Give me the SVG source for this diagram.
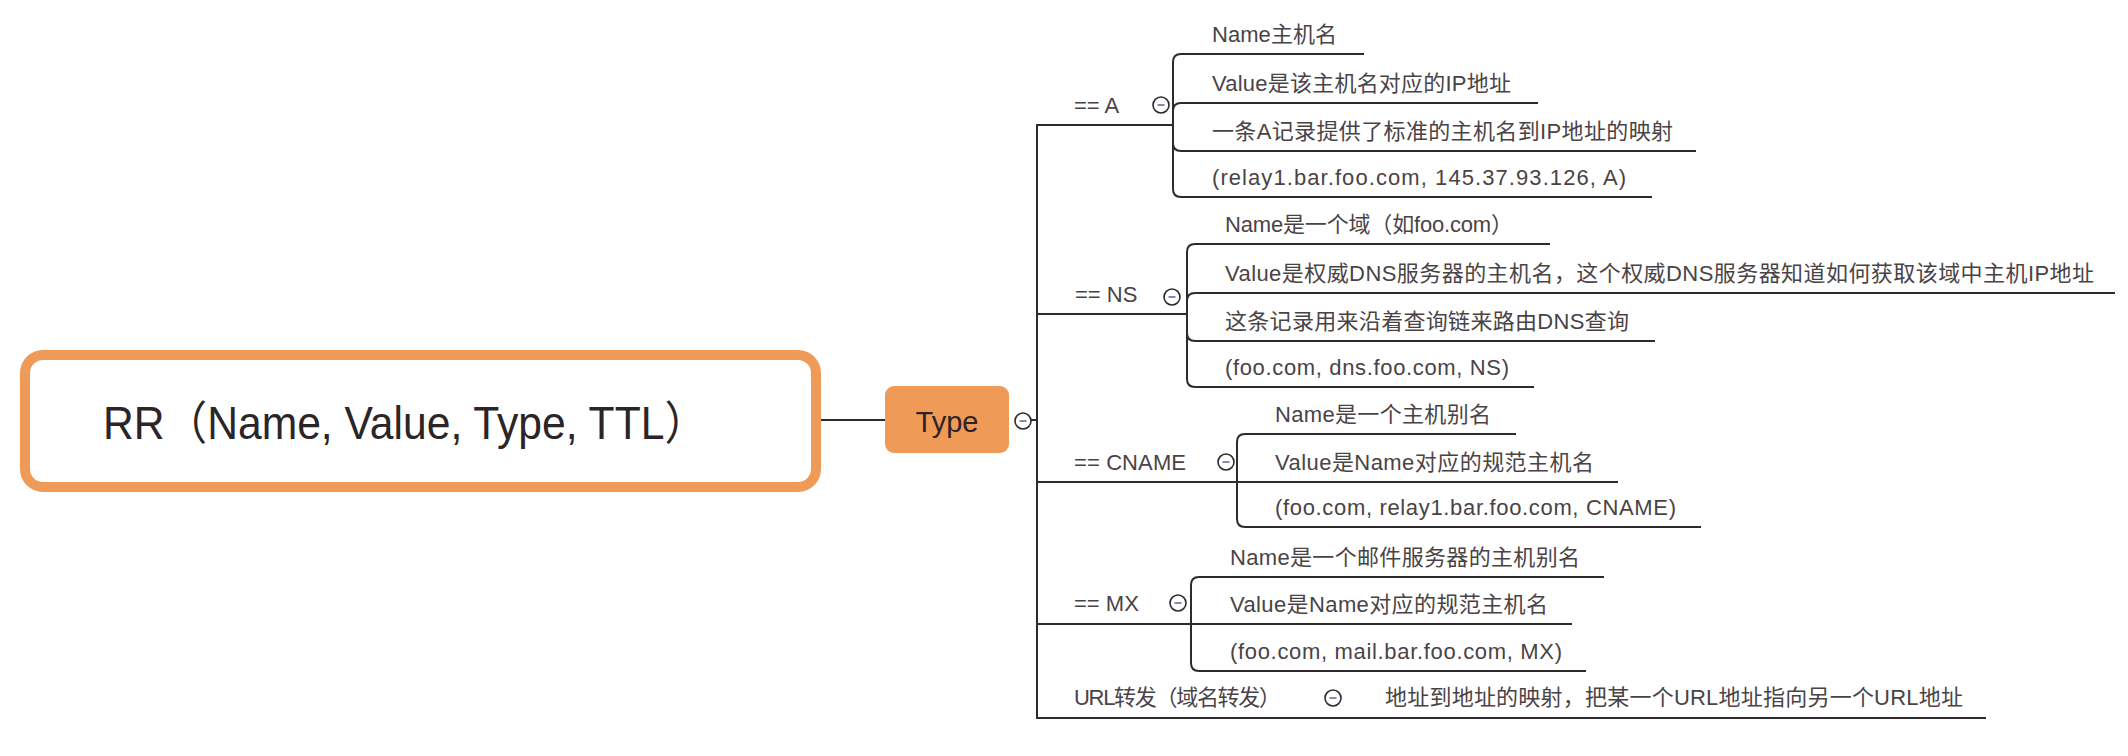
<svg xmlns="http://www.w3.org/2000/svg" width="2128" height="756" viewBox="0 0 2128 756">
<style>
.t{font-family:"Liberation Sans","Noto Sans CJK SC",sans-serif;font-size:22px;fill:#4a4346;}
.ln{fill:none;stroke:#2f2a2d;stroke-width:2;}
.cc{fill:#fff;stroke:#2f2a2d;stroke-width:1.6;}
.cd{stroke:#7f8db3;stroke-width:2;}
</style>
<defs>
<g id="col"><circle class="cc" cx="0" cy="0" r="8"/><line class="cd" x1="-3.5" y1="0" x2="3.5" y2="0"/></g>
</defs>
<rect width="2128" height="756" fill="#fff"/>
<g id="connectors">
<line class="ln" x1="821" y1="420" x2="886" y2="420"/>
<line class="ln" x1="1031" y1="420" x2="1037" y2="420"/>
<path class="ln" d="M1173 125 H1037 V718 H1986"/>
<path class="ln" d="M1037 314 H1187"/>
<path class="ln" d="M1037 482 H1237"/>
<path class="ln" d="M1037 624 H1191"/>
<!-- A children -->
<path class="ln" d="M1173 125 V62 Q1173 54 1181 54 H1364"/>
<path class="ln" d="M1173 125 V111 Q1173 103 1181 103 H1538"/>
<path class="ln" d="M1173 125 V143 Q1173 151 1181 151 H1696"/>
<path class="ln" d="M1173 125 V189 Q1173 197 1181 197 H1652"/>
<!-- NS children -->
<path class="ln" d="M1187 314 V252 Q1187 244 1195 244 H1550"/>
<path class="ln" d="M1187 314 V301 Q1187 293 1195 293 H2115"/>
<path class="ln" d="M1187 314 V333 Q1187 341 1195 341 H1655"/>
<path class="ln" d="M1187 314 V379 Q1187 387 1195 387 H1534"/>
<!-- CNAME children -->
<path class="ln" d="M1237 482 V442 Q1237 434 1245 434 H1516"/>
<path class="ln" d="M1237 482 H1618"/>
<path class="ln" d="M1237 482 V519 Q1237 527 1245 527 H1701"/>
<!-- MX children -->
<path class="ln" d="M1191 624 V585 Q1191 577 1199 577 H1604"/>
<path class="ln" d="M1191 624 H1572"/>
<path class="ln" d="M1191 624 V663 Q1191 671 1199 671 H1586"/>
</g>
<g id="root">
<rect x="25" y="355" width="791" height="132" rx="18" fill="#fff" stroke="#F09A57" stroke-width="10"/>
<text x="103" y="439" font-family="'Liberation Sans','Noto Sans CJK SC',sans-serif" font-size="46" fill="#2b2528" textLength="604" lengthAdjust="spacingAndGlyphs">RR（Name, Value, Type, TTL）</text>
</g>
<g id="type">
<rect x="885" y="386" width="124" height="67" rx="9" fill="#F09A57"/>
<text x="947" y="432" text-anchor="middle" font-family="'Liberation Sans',sans-serif" font-size="29" fill="#2e2426">Type</text>
<use href="#col" x="1023" y="421"/>
</g>
<g id="node-a">
<text class="t" x="1074" y="113">== A</text>
<use href="#col" x="1161" y="105"/>
</g>
<g id="a1"><text class="t" x="1212" y="42" textLength="125">Name主机名</text></g>
<g id="a2"><text class="t" x="1212" y="91" textLength="299">Value是该主机名对应的IP地址</text></g>
<g id="a3"><text class="t" x="1212" y="139" textLength="461">一条A记录提供了标准的主机名到IP地址的映射</text></g>
<g id="a4"><text class="t" x="1212" y="185" textLength="414">(relay1.bar.foo.com, 145.37.93.126, A)</text></g>
<g id="node-ns">
<text class="t" x="1075" y="302">== NS</text>
<use href="#col" x="1172" y="297"/>
</g>
<g id="ns1"><text class="t" x="1225" y="232" textLength="288">Name是一个域（如foo.com）</text></g>
<g id="ns2"><text class="t" x="1225" y="281" textLength="869">Value是权威DNS服务器的主机名，这个权威DNS服务器知道如何获取该域中主机IP地址</text></g>
<g id="ns3"><text class="t" x="1225" y="329" textLength="404">这条记录用来沿着查询链来路由DNS查询</text></g>
<g id="ns4"><text class="t" x="1225" y="375" textLength="284">(foo.com, dns.foo.com, NS)</text></g>
<g id="node-cname">
<text class="t" x="1074" y="470" textLength="112">== CNAME</text>
<use href="#col" x="1226" y="462"/>
</g>
<g id="c1"><text class="t" x="1275" y="422" textLength="216">Name是一个主机别名</text></g>
<g id="c2"><text class="t" x="1275" y="470" textLength="319">Value是Name对应的规范主机名</text></g>
<g id="c3"><text class="t" x="1275" y="515" textLength="401">(foo.com, relay1.bar.foo.com, CNAME)</text></g>
<g id="node-mx">
<text class="t" x="1074" y="611">== MX</text>
<use href="#col" x="1178" y="603"/>
</g>
<g id="m1"><text class="t" x="1230" y="565" textLength="350">Name是一个邮件服务器的主机别名</text></g>
<g id="m2"><text class="t" x="1230" y="612" textLength="318">Value是Name对应的规范主机名</text></g>
<g id="m3"><text class="t" x="1230" y="659" textLength="332">(foo.com, mail.bar.foo.com, MX)</text></g>
<g id="node-url">
<text class="t" x="1074" y="705" textLength="207">URL转发（域名转发）</text>
<use href="#col" x="1333" y="698"/>
</g>
<g id="url1"><text class="t" x="1385" y="705" textLength="578">地址到地址的映射，把某一个URL地址指向另一个URL地址</text></g>
</svg>
